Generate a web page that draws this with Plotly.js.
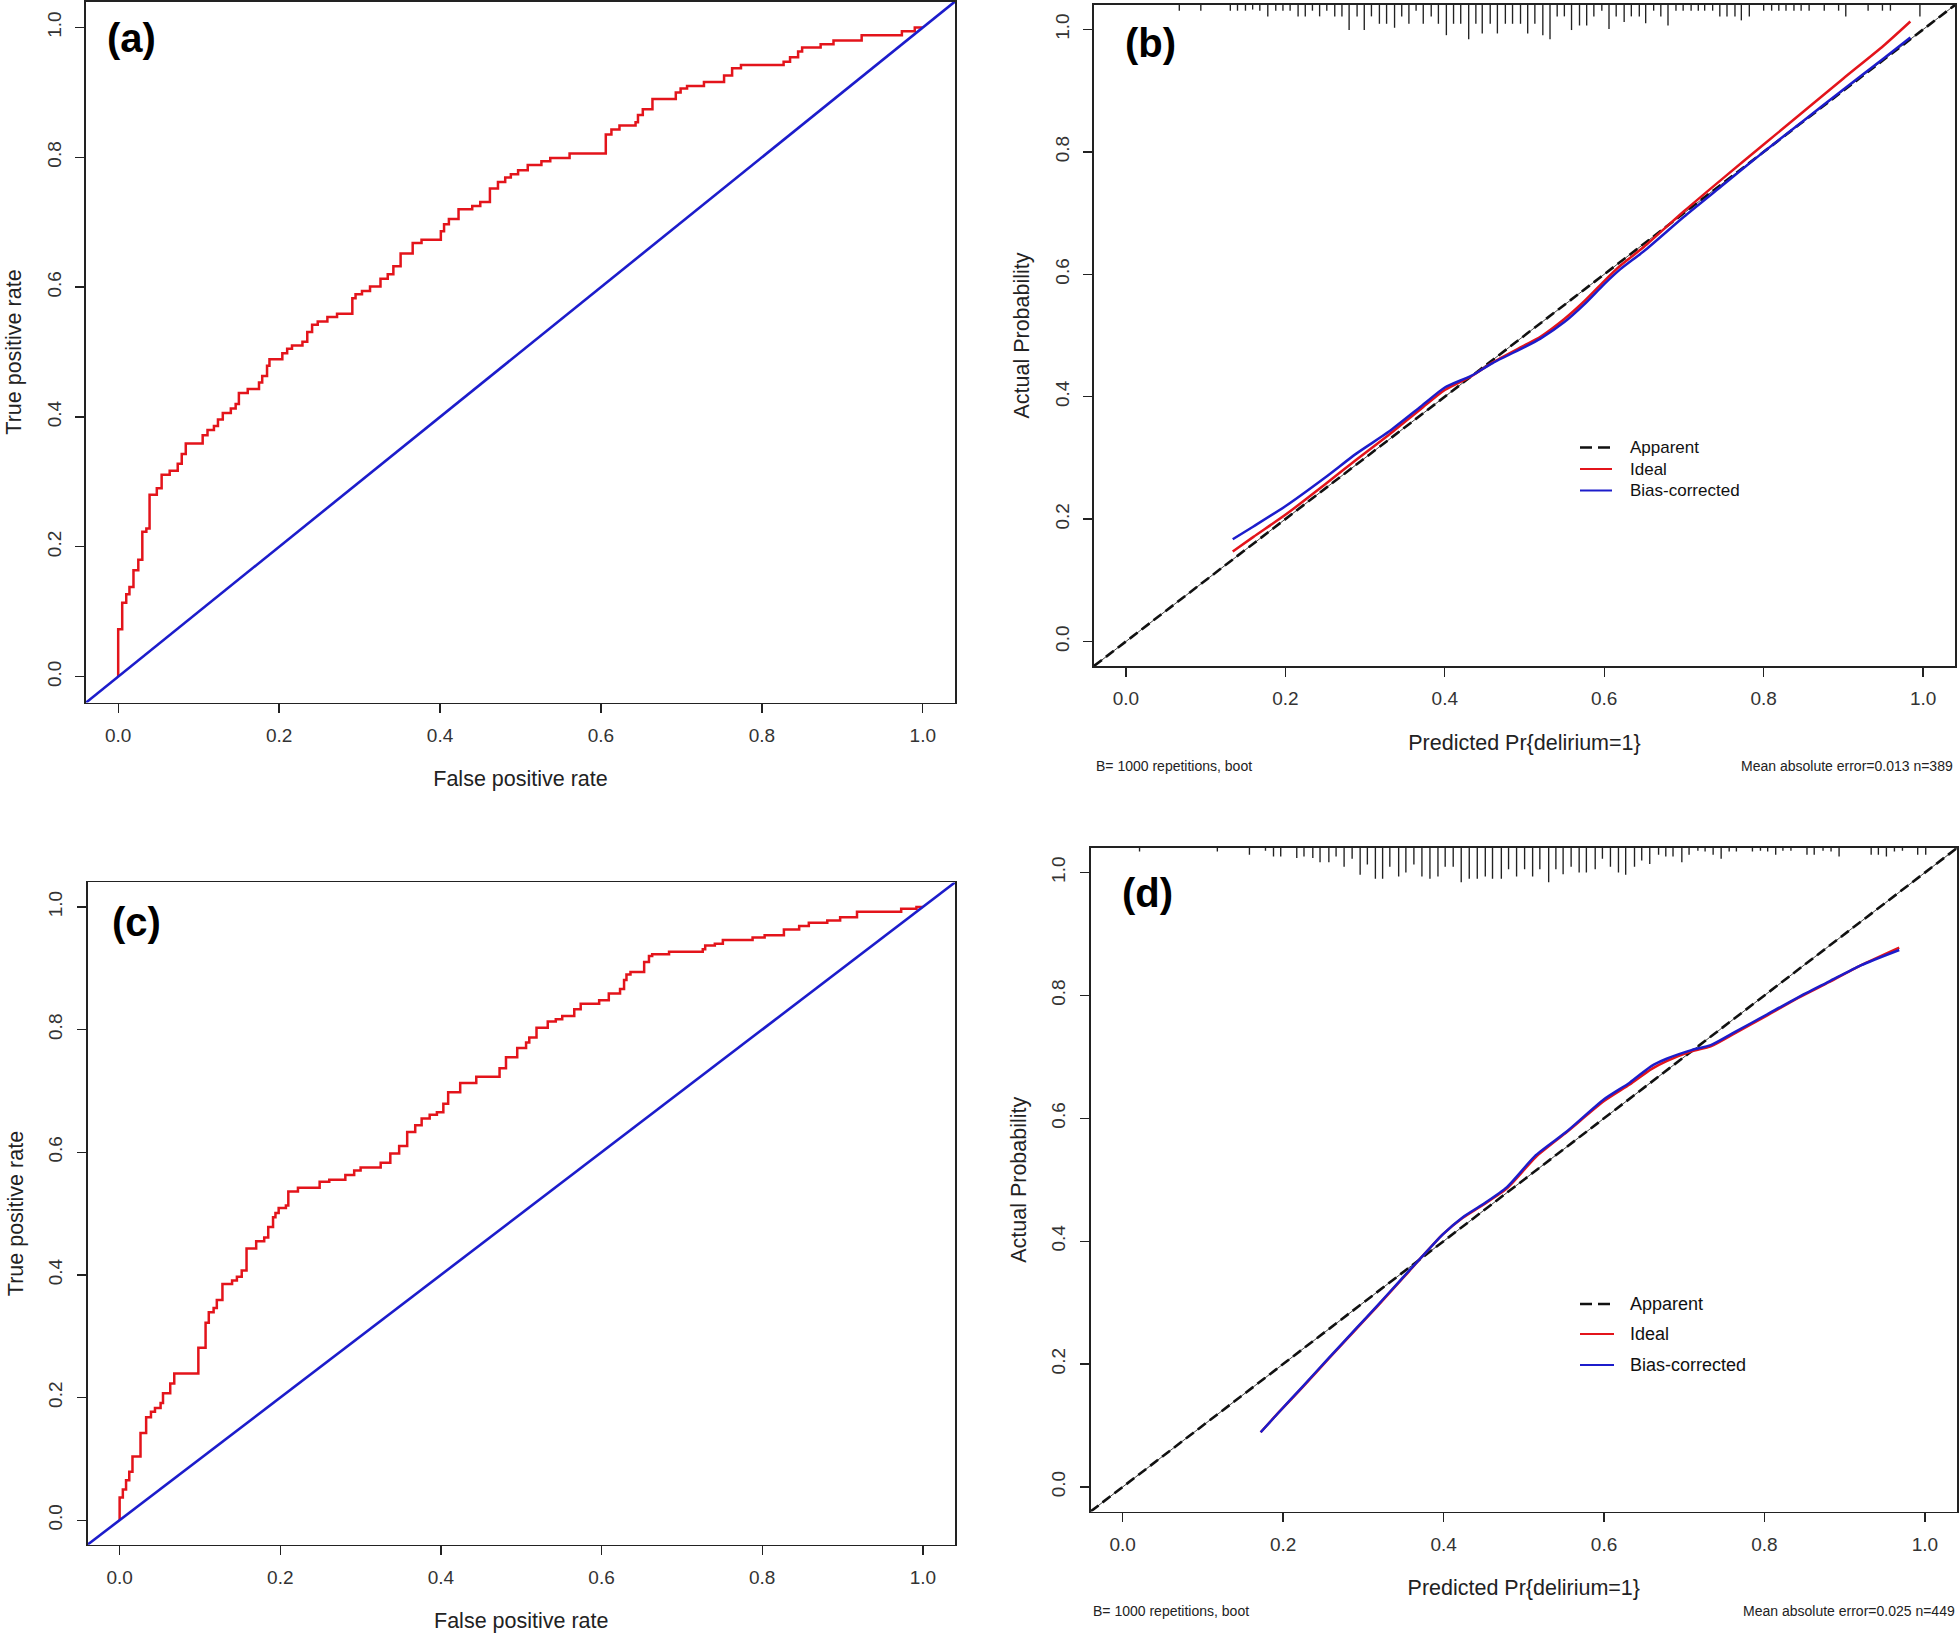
<!DOCTYPE html>
<html><head><meta charset="utf-8">
<script src="https://cdn.plot.ly/plotly-3.0.1.min.js"></script>
<style>html,body{margin:0;padding:0;background:#fff;} #chart{width:1960px;height:1634px;}</style>
</head><body><div id="chart"></div>
<script>
// ---------- DATA ----------
// (a) ROC curve, training set (step points: FPR, TPR)
const fprA = [0, 0, 0.005, 0.010, 0.014, 0.019, 0.025, 0.030, 0.035, 0.039, 0.048, 0.054, 0.064, 0.074, 0.079, 0.084, 0.105, 0.111, 0.119, 0.124, 0.130, 0.140, 0.146, 0.150, 0.161, 0.175, 0.179, 0.185, 0.188, 0.204, 0.210, 0.216, 0.229, 0.235, 0.241, 0.248, 0.260, 0.272, 0.291, 0.295, 0.303, 0.313, 0.326, 0.335, 0.342, 0.351, 0.366, 0.377, 0.401, 0.405, 0.411, 0.423, 0.440, 0.450, 0.462, 0.472, 0.481, 0.488, 0.497, 0.509, 0.526, 0.537, 0.561, 0.606, 0.613, 0.623, 0.643, 0.646, 0.652, 0.664, 0.693, 0.699, 0.707, 0.728, 0.753, 0.763, 0.774, 0.827, 0.835, 0.845, 0.850, 0.873, 0.889, 0.924, 0.974, 0.990, 1.0];
const tprA = [0, 0.073, 0.114, 0.127, 0.138, 0.164, 0.180, 0.223, 0.228, 0.280, 0.290, 0.311, 0.317, 0.328, 0.343, 0.359, 0.372, 0.380, 0.386, 0.396, 0.406, 0.413, 0.420, 0.437, 0.443, 0.453, 0.463, 0.479, 0.489, 0.498, 0.505, 0.510, 0.516, 0.531, 0.542, 0.547, 0.554, 0.559, 0.583, 0.589, 0.594, 0.601, 0.613, 0.620, 0.632, 0.652, 0.668, 0.673, 0.686, 0.697, 0.705, 0.720, 0.725, 0.731, 0.752, 0.762, 0.769, 0.774, 0.780, 0.788, 0.794, 0.799, 0.806, 0.835, 0.843, 0.849, 0.854, 0.865, 0.874, 0.890, 0.900, 0.906, 0.910, 0.916, 0.926, 0.937, 0.942, 0.947, 0.954, 0.963, 0.969, 0.974, 0.980, 0.988, 0.994, 1.0, 1.0];

// (c) ROC curve, validation set
const fprC = [0, 0, 0.004, 0.008, 0.012, 0.016, 0.026, 0.033, 0.039, 0.044, 0.051, 0.054, 0.063, 0.068, 0.098, 0.107, 0.111, 0.117, 0.121, 0.128, 0.140, 0.146, 0.152, 0.158, 0.170, 0.180, 0.185, 0.191, 0.194, 0.198, 0.207, 0.210, 0.222, 0.249, 0.261, 0.281, 0.292, 0.300, 0.325, 0.337, 0.348, 0.358, 0.368, 0.376, 0.386, 0.395, 0.403, 0.409, 0.424, 0.444, 0.473, 0.481, 0.495, 0.506, 0.510, 0.519, 0.533, 0.543, 0.551, 0.566, 0.574, 0.597, 0.609, 0.623, 0.628, 0.631, 0.636, 0.653, 0.659, 0.663, 0.684, 0.726, 0.729, 0.741, 0.751, 0.788, 0.803, 0.827, 0.846, 0.858, 0.881, 0.897, 0.918, 0.973, 0.992, 1.0];
const tprC = [0, 0.037, 0.050, 0.065, 0.079, 0.104, 0.142, 0.168, 0.177, 0.183, 0.191, 0.207, 0.223, 0.239, 0.281, 0.322, 0.339, 0.346, 0.359, 0.385, 0.391, 0.397, 0.407, 0.443, 0.455, 0.461, 0.478, 0.494, 0.501, 0.509, 0.513, 0.536, 0.542, 0.552, 0.555, 0.563, 0.570, 0.575, 0.583, 0.598, 0.610, 0.633, 0.644, 0.655, 0.661, 0.665, 0.679, 0.698, 0.713, 0.723, 0.737, 0.755, 0.770, 0.779, 0.787, 0.803, 0.813, 0.817, 0.822, 0.833, 0.842, 0.848, 0.859, 0.866, 0.881, 0.890, 0.894, 0.910, 0.920, 0.923, 0.927, 0.931, 0.937, 0.940, 0.946, 0.950, 0.954, 0.963, 0.969, 0.974, 0.978, 0.983, 0.992, 0.997, 1.0, 1.0];

// (b) calibration, training set
const predB  = [0.134, 0.16, 0.2, 0.25, 0.289, 0.33, 0.37, 0.4, 0.433, 0.46, 0.5, 0.52, 0.55, 0.575, 0.6, 0.62, 0.65, 0.7, 0.75, 0.8, 0.85, 0.9, 0.95, 0.984];
const idealB = [0.147, 0.171, 0.207, 0.257, 0.297, 0.338, 0.380, 0.411, 0.433, 0.456, 0.484, 0.498, 0.527, 0.556, 0.589, 0.614, 0.645, 0.703, 0.758, 0.812, 0.866, 0.920, 0.973, 1.013];
const biasB  = [0.167, 0.188, 0.221, 0.268, 0.307, 0.343, 0.384, 0.415, 0.434, 0.455, 0.481, 0.495, 0.522, 0.551, 0.584, 0.608, 0.638, 0.694, 0.747, 0.800, 0.851, 0.902, 0.952, 0.987];
// rug (spike histogram) of predicted probabilities, (b)
const rugBx = [0.067, 0.094, 0.131, 0.140, 0.150, 0.159, 0.168, 0.178, 0.188, 0.197, 0.206, 0.216, 0.225, 0.234, 0.243, 0.252, 0.262, 0.271, 0.280, 0.290, 0.299, 0.308, 0.318, 0.327, 0.337, 0.346, 0.355, 0.364, 0.373, 0.383, 0.392, 0.402, 0.411, 0.420, 0.430, 0.439, 0.447, 0.457, 0.466, 0.476, 0.485, 0.495, 0.504, 0.513, 0.523, 0.532, 0.541, 0.550, 0.559, 0.569, 0.578, 0.587, 0.597, 0.606, 0.615, 0.625, 0.634, 0.644, 0.652, 0.662, 0.671, 0.680, 0.690, 0.699, 0.709, 0.718, 0.726, 0.736, 0.745, 0.754, 0.764, 0.772, 0.782, 0.800, 0.810, 0.819, 0.828, 0.838, 0.847, 0.857, 0.876, 0.894, 0.903, 0.931, 0.949, 0.959, 0.996];
const rugBn = [1, 1, 1, 1, 1, 0.8, 1, 2, 1, 1, 1, 2, 2, 1, 2, 1, 2, 2, 4.4, 2, 4.4, 2, 3.3, 3.3, 4, 2, 3.3, 1, 3.3, 2, 3.3, 5.3, 3.3, 3.3, 6, 3.3, 5, 3.3, 5, 3.3, 3.3, 3.3, 5, 3.3, 5.3, 6, 2,
               2, 4.4, 3.6, 3.6, 2, 1, 4.2, 2, 3, 2, 2, 3.2, 1, 2, 3.6, 1, 1, 1, 1, 1, 1, 2, 2, 2, 2.7, 2, 1, 1, 1, 1, 1, 1, 1, 1, 1, 2, 1, 1, 1, 2];

// (d) calibration, validation set
const predD  = [0.172, 0.195, 0.224, 0.257, 0.291, 0.316, 0.341, 0.357, 0.374, 0.399, 0.424, 0.449, 0.479, 0.515, 0.554, 0.600, 0.632, 0.659, 0.678, 0.709, 0.733, 0.764, 0.803, 0.842, 0.881, 0.920, 0.968];
const idealD = [0.089, 0.122, 0.162, 0.209, 0.257, 0.292, 0.328, 0.351, 0.376, 0.411, 0.438, 0.459, 0.486, 0.537, 0.578, 0.628, 0.655, 0.680, 0.693, 0.709, 0.717, 0.739, 0.767, 0.796, 0.822, 0.849, 0.878];
const biasD  = [0.089, 0.122, 0.163, 0.210, 0.258, 0.293, 0.329, 0.352, 0.376, 0.411, 0.439, 0.460, 0.488, 0.540, 0.579, 0.631, 0.658, 0.685, 0.697, 0.711, 0.719, 0.741, 0.769, 0.797, 0.823, 0.849, 0.874];
const rugDx = [0.021, 0.118, 0.158, 0.178, 0.188, 0.197, 0.217, 0.226, 0.237, 0.246, 0.257, 0.266, 0.276, 0.286, 0.296, 0.305, 0.315, 0.324, 0.333, 0.344, 0.353, 0.363, 0.373, 0.383, 0.393, 0.402, 0.412, 0.422, 0.432, 0.442, 0.452, 0.461, 0.472, 0.481, 0.491, 0.501, 0.511, 0.520, 0.531, 0.540,
               0.549, 0.559, 0.569, 0.578, 0.589, 0.598, 0.608, 0.618, 0.627, 0.638, 0.647, 0.657, 0.668, 0.677, 0.686, 0.697, 0.706, 0.717, 0.726, 0.736, 0.746, 0.756, 0.765, 0.785, 0.795, 0.804, 0.814, 0.823, 0.833, 0.853, 0.862, 0.873, 0.883, 0.893, 0.933, 0.942, 0.952, 0.962, 0.972, 0.991, 1.001];
const rugDn = [0.6, 0.6, 1.2, 0.5, 1.5, 1.5, 1.75, 1.5, 1.75, 2.5, 2.5, 1.5, 3.3, 1.9, 4.7, 2.9, 5.4, 5.4, 3.3, 5, 4.3, 2.9, 5, 5.4, 5, 3.3, 3.3, 6, 5.4, 5.4, 5, 5.4, 5.4, 3.7, 5, 3.7, 5, 3.7, 6, 3.7,
               4.6, 3.3, 4.3, 4.3, 3.7, 1.9, 3.3, 4.3, 4.7, 3.3, 2.2, 2.8, 1.2, 1.5, 1.5, 2.5, 1.2, 0.5, 0.6, 1.2, 1.9, 0.6, 0.6, 0.6, 0.5, 0.6, 1.2, 0.5, 0.5, 1.2, 1.2, 0.5, 0.6, 1.5, 1.2, 1.2, 1.5, 0.6, 0.5, 1.2, 1.2];

const tickVals = [0, 0.2, 0.4, 0.6, 0.8, 1.0];
const tickText = ['0.0', '0.2', '0.4', '0.6', '0.8', '1.0'];
const axisRange = [-0.04, 1.04];
const rocXTitle = 'False positive rate';
const rocYTitle = 'True positive rate';
const calXTitle = 'Predicted Pr{delirium=1}';
const calYTitle = 'Actual Probability';
const subLeft = 'B= 1000 repetitions, boot';
const subRightB = 'Mean absolute error=0.013 n=389';
const subRightD = 'Mean absolute error=0.025 n=449';
const legendNames = ['Apparent', 'Ideal', 'Bias-corrected'];
const panelLabels = ['(a)', '(b)', '(c)', '(d)'];

// ---------- STYLE ----------
const W = 1960, H = 1634;
const FONT = '"Liberation Sans", Arial, sans-serif';
const RED = '#E3141B', BLUE = '#1C1CCB', BLACK = '#111111', AXC = '#222222';
const RUG_UNIT = 0.0093;
const px = x => x / W;
const py = y => 1 - y / H;

function axis(x0, x1, isY, title) {
  return {
    domain: isY ? [py(x1), py(x0)] : [px(x0), px(x1)],
    range: axisRange, autorange: false, fixedrange: true,
    tickmode: 'array', tickvals: tickVals, ticktext: tickText,
    ticks: 'outside', ticklen: 9, tickwidth: 1.3, tickcolor: AXC,
    tickangle: isY ? -90 : 0,
    ticklabelstandoff: isY ? 7 : 6,
    tickfont: {family: FONT, size: 19, color: '#333'},
    showline: true, mirror: true, linecolor: AXC, linewidth: 1.6,
    showgrid: false, zeroline: false, automargin: false,
    title: {text: title, standoff: isY ? 16 : 26, font: {family: FONT, size: 21.5, color: '#222'}}
  };
}

const traces = [];
// (a)
traces.push({x: fprA, y: tprA, xaxis: 'x', yaxis: 'y', mode: 'lines', line: {color: RED, width: 2.5, shape: 'hv'}, hoverinfo: 'skip'});
traces.push({x: axisRange, y: axisRange, xaxis: 'x', yaxis: 'y', mode: 'lines', line: {color: BLUE, width: 2.6}, hoverinfo: 'skip'});
// (c)
traces.push({x: fprC, y: tprC, xaxis: 'x3', yaxis: 'y3', mode: 'lines', line: {color: RED, width: 2.5, shape: 'hv'}, hoverinfo: 'skip'});
traces.push({x: axisRange, y: axisRange, xaxis: 'x3', yaxis: 'y3', mode: 'lines', line: {color: BLUE, width: 2.6}, hoverinfo: 'skip'});

function calib(xa, ya, pred, ideal, bias, rx, rn) {
  traces.push({type: 'bar', x: rx, y: rn.map(n => -n * RUG_UNIT), base: axisRange[1], width: 0.0017,
    xaxis: xa, yaxis: ya, marker: {color: '#222', line: {width: 0}}, hoverinfo: 'skip'});
  traces.push({x: axisRange, y: axisRange, xaxis: xa, yaxis: ya, mode: 'lines', line: {color: BLACK, width: 0.8}, hoverinfo: 'skip'});
  traces.push({x: axisRange, y: axisRange, xaxis: xa, yaxis: ya, mode: 'lines', line: {color: BLACK, width: 2.6, dash: '10px,5px'}, hoverinfo: 'skip'});
  traces.push({x: pred, y: ideal, xaxis: xa, yaxis: ya, mode: 'lines', line: {color: RED, width: 2.5, shape: 'spline', smoothing: 0.6}, hoverinfo: 'skip'});
  traces.push({x: pred, y: bias, xaxis: xa, yaxis: ya, mode: 'lines', line: {color: BLUE, width: 2.5, shape: 'spline', smoothing: 0.6}, hoverinfo: 'skip'});
}
calib('x2', 'y2', predB, idealB, biasB, rugBx, rugBn);
calib('x4', 'y4', predD, idealD, biasD, rugDx, rugDn);

const annotations = [];
const shapes = [];
function label(text, x, y) {
  annotations.push({text: text, xref: 'paper', yref: 'paper', x: px(x), y: py(y), xanchor: 'center', yanchor: 'middle', showarrow: false,
    font: {family: FONT, size: 40, color: '#000', weight: 'bold'}});
}
label(panelLabels[0], 131, 38);
label(panelLabels[1], 1150, 43);
label(panelLabels[2], 136, 922);
label(panelLabels[3], 1147, 893);

function sub(text, x, y, anchor) {
  annotations.push({text: text, xref: 'paper', yref: 'paper', x: px(x), y: py(y), xanchor: anchor, yanchor: 'middle', showarrow: false,
    font: {family: FONT, size: 14, color: '#222'}});
}
sub(subLeft, 1094, 766, 'left');
sub(subRightB, 1955, 766, 'right');
sub(subLeft, 1091, 1611, 'left');
sub(subRightD, 1957, 1611, 'right');

function legend(x0, x1, xt, rows, size) {
  const styles = [{color: BLACK, width: 2.6, dash: '12px,6px'}, {color: RED, width: 2}, {color: BLUE, width: 2}];
  rows.forEach((y, i) => {
    shapes.push({type: 'line', xref: 'paper', yref: 'paper', x0: px(x0), x1: px(x1), y0: py(y), y1: py(y), line: styles[i]});
    annotations.push({text: legendNames[i], xref: 'paper', yref: 'paper', x: px(xt), y: py(y), xanchor: 'left', yanchor: 'middle', showarrow: false,
      borderpad: 0, font: {family: FONT, size: size, color: '#111'}});
  });
}
legend(1580, 1612, 1629, [447.5, 469, 490.5], 17);
legend(1580, 1614, 1629, [1304, 1334, 1365], 18);

const layout = {
  width: W, height: H, margin: {l: 0, r: 0, t: 0, b: 0},
  paper_bgcolor: '#fff', plot_bgcolor: '#fff', showlegend: false, barmode: 'overlay',
  xaxis: axis(86, 955, false, rocXTitle),  yaxis: axis(1.5, 702.6, true, rocYTitle),
  xaxis2: axis(1094, 1955, false, calXTitle), yaxis2: axis(5, 666, true, calYTitle),
  xaxis3: axis(87.5, 955, false, rocXTitle), yaxis3: axis(882.4, 1544.7, true, rocYTitle),
  xaxis4: axis(1090.6, 1957, false, calXTitle), yaxis4: axis(848, 1511.5, true, calYTitle),
  annotations: annotations, shapes: shapes
};
layout.xaxis.anchor = 'y'; layout.yaxis.anchor = 'x';
layout.xaxis2.anchor = 'y2'; layout.yaxis2.anchor = 'x2';
layout.xaxis3.anchor = 'y3'; layout.yaxis3.anchor = 'x3';
layout.xaxis4.anchor = 'y4'; layout.yaxis4.anchor = 'x4';

Plotly.newPlot('chart', traces, layout, {staticPlot: true, displayModeBar: false});
</script></body></html>
